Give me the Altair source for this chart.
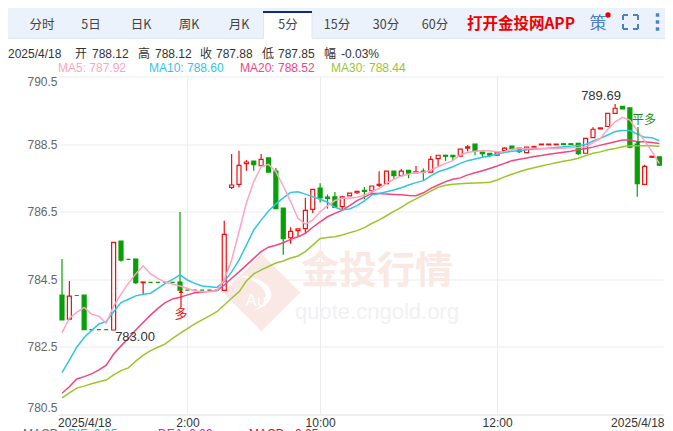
import altair as alt
import pandas as pd

opens = [784.03,783.32,784.02,784.03,783.01,783.01,783.01,783.00,785.63,785.09,785.10,784.40,784.41,784.41,784.41,784.41,784.42,784.18,784.18,784.18,784.18,784.18,784.17,787.22,787.31,787.92,788.00,787.86,788.09,787.70,786.61,785.73,785.94,786.00,786.57,787.20,786.93,786.94,786.65,786.97,787.06,787.13,787.12,787.28,787.33,787.70,787.57,787.72,787.65,787.70,787.67,788.07,788.17,788.17,788.14,788.38,788.50,788.26,788.23,788.17,788.31,788.44,788.38,788.25,788.41,788.48,788.48,788.48,788.51,788.51,788.52,788.23,788.69,788.95,789.02,789.41,789.62,789.57,788.50,787.31,788.11,788.12]
highs = [785.10,784.45,784.02,784.03,783.01,783.01,783.01,785.59,785.63,785.09,785.10,784.42,784.41,784.41,784.41,784.41,786.49,784.18,784.18,784.18,784.18,784.18,786.23,788.21,788.30,788.03,788.00,788.21,788.09,787.79,786.61,786.04,785.99,786.91,787.16,787.34,787.01,787.08,786.97,787.05,787.10,787.23,787.26,787.70,787.70,787.70,787.76,787.72,787.85,787.78,788.15,788.17,788.17,788.17,788.35,788.47,788.50,788.26,788.23,788.25,788.41,788.44,788.38,788.41,788.43,788.50,788.50,788.50,788.51,788.51,788.52,788.67,789.00,788.98,789.41,789.69,789.62,789.57,788.50,787.89,788.14,788.12]
lows = [783.30,783.32,784.02,783.01,783.01,783.01,783.00,783.00,785.02,785.09,784.36,784.06,784.41,784.41,784.41,784.41,784.18,784.18,784.18,784.18,784.18,784.18,784.17,787.17,787.22,787.71,787.71,787.86,787.67,786.59,785.23,785.55,785.76,785.85,786.46,786.77,786.59,786.63,786.55,786.97,787.02,786.87,787.00,787.23,787.33,787.47,787.57,787.49,787.65,787.44,787.67,787.85,788.00,788.00,788.14,788.28,788.17,788.12,788.11,788.17,788.31,788.36,788.24,788.25,788.41,788.48,788.48,788.48,788.49,788.49,788.18,788.23,788.69,788.95,789.02,789.41,789.54,788.38,786.94,787.31,788.11,787.85]
closes = [783.30,784.00,784.02,783.01,783.01,783.01,783.01,785.59,785.07,785.09,784.40,784.42,784.41,784.41,784.41,784.41,784.18,784.18,784.18,784.18,784.18,784.18,785.83,787.29,787.87,787.97,787.89,788.05,787.67,786.59,785.70,785.92,785.99,786.54,787.16,786.91,786.89,786.63,786.94,787.05,787.10,787.10,787.26,787.31,787.70,787.57,787.70,787.64,787.68,787.67,788.05,788.17,788.14,788.13,788.35,788.42,788.29,788.22,788.17,788.25,788.38,788.36,788.28,788.41,788.43,788.50,788.50,788.50,788.49,788.49,788.22,788.67,788.94,788.98,789.41,789.56,789.54,788.41,787.33,787.84,788.14,787.88]
ma5 = [782.92,783.35,783.52,783.67,783.47,783.41,783.20,783.71,784.06,784.38,784.66,784.90,784.66,784.53,784.41,784.36,784.30,784.23,784.16,784.13,784.13,784.16,784.48,785.07,785.90,786.76,787.39,787.83,787.90,787.68,787.26,786.80,786.30,786.13,786.25,786.50,786.67,786.83,786.90,786.90,786.93,786.99,787.09,787.19,787.34,787.46,787.56,787.61,787.66,787.66,787.73,787.83,787.93,788.01,788.18,788.25,788.29,788.31,788.30,788.27,788.28,788.35,788.36,788.37,788.37,788.37,788.37,788.37,788.38,788.39,788.40,788.42,788.54,788.67,788.94,789.16,789.29,789.21,788.90,788.59,788.28,787.92]
ma10 = [781.74,782.11,782.49,782.78,782.98,783.18,783.25,783.54,783.81,783.91,784.01,784.06,784.09,784.23,784.38,784.50,784.63,784.48,784.38,784.30,784.28,784.26,784.43,784.72,785.07,785.51,785.96,786.25,786.52,786.73,786.91,787.07,787.09,787.02,786.94,786.87,786.78,786.63,786.56,786.58,786.68,786.82,786.99,787.04,787.09,787.14,787.21,787.29,787.36,787.42,787.56,787.68,787.75,787.83,787.93,788.01,788.06,788.11,788.15,788.21,788.25,788.29,788.30,788.33,788.35,788.36,788.38,788.40,788.42,788.44,788.46,788.49,788.59,788.67,788.77,788.87,788.90,788.90,788.80,788.70,788.69,788.60]
ma20 = [781.13,781.32,781.55,781.62,781.70,781.82,781.96,782.29,782.53,782.75,783.00,783.22,783.44,783.64,783.81,783.92,783.97,784.04,784.10,784.12,784.15,784.16,784.33,784.53,784.72,784.92,785.12,785.32,785.45,785.51,785.58,785.68,785.76,785.86,786.04,786.20,786.35,786.45,786.54,786.68,786.83,786.93,787.04,787.04,787.02,787.01,787.00,786.98,786.97,787.06,787.19,787.29,787.39,787.46,787.50,787.59,787.65,787.71,787.78,787.85,787.93,788.01,788.05,788.09,788.13,788.16,788.20,788.23,788.26,788.29,788.33,788.37,788.41,788.47,788.52,788.57,788.62,788.62,788.57,788.57,788.55,788.52]
ma30 = [780.99,781.14,781.28,781.34,781.41,781.47,781.52,781.67,781.80,781.88,782.08,782.25,782.39,782.49,782.59,782.75,782.90,783.04,783.18,783.30,783.42,783.54,783.74,783.94,784.13,784.45,784.66,784.78,784.88,784.98,785.04,785.13,785.19,785.32,785.51,785.71,785.74,785.76,785.81,785.88,785.94,786.03,786.15,786.26,786.38,786.51,786.63,786.77,786.88,786.99,787.11,787.22,787.28,787.31,787.33,787.34,787.35,787.36,787.37,787.44,787.53,787.61,787.68,787.75,787.80,787.85,787.90,787.95,787.99,788.03,788.08,788.16,788.23,788.27,788.33,788.37,788.42,788.45,788.45,788.45,788.45,788.44]
y_ticks = [780.5, 782.5, 784.5, 786.5, 788.5, 790.5]
x_grid = {17: "2:00", 35: "10:00", 59: "12:00"}

UP, DOWN = "#f40d0d", "#06a006"
FONT = "Liberation Sans"
CJK = "Noto Sans CJK SC"
L, T = 58.0, 76.5

n = len(opens)
df = pd.DataFrame({"i": range(n), "o": opens, "h": highs, "l": lows, "c": closes})
df["dir"] = ["up" if c > o else "down" for o, c in zip(opens, closes)]
df["xa"] = df["i"] - 0.27
df["xb"] = df["i"] + 0.27
x_dom = [-4 / 7.375, (605 - 4) / 7.375]
xs = alt.Scale(domain=x_dom, nice=False, zero=False)
ys = alt.Scale(domain=[780.5, 790.5], nice=False, zero=False)
dir_scale = alt.Scale(domain=["up", "down"], range=[UP, DOWN])
fill_scale = alt.Scale(domain=["up", "down"], range=["#ffffff", DOWN])

one = pd.DataFrame({"a": [0]})

def txt(s, px, py, color="#333333", size=12, align="center", weight="normal", font=FONT, baseline="middle"):
    kw = dict(text=s, color=color, fontSize=size, align=align, fontWeight=weight, font=font, baseline=baseline)
    return alt.Chart(one).mark_text(**kw).encode(x=alt.value(px - L), y=alt.value(py - T))

def box(x0, y0, x1, y1, fill, stroke=None):
    kw = dict(color=fill)
    if stroke:
        kw["stroke"] = stroke
        kw["strokeWidth"] = 1
    return alt.Chart(one).mark_rect(**kw).encode(x=alt.value(x0 - L), x2=alt.value(x1 - L), y=alt.value(y0 - T), y2=alt.value(y1 - T))

def seg(x0, y0, x1, y1, color, w=1.0):
    return alt.Chart(one).mark_rule(color=color, strokeWidth=w).encode(x=alt.value(x0 - L), x2=alt.value(x1 - L), y=alt.value(y0 - T), y2=alt.value(y1 - T))

def dot(px, py, size, color, shape="circle"):
    return alt.Chart(one).mark_point(shape=shape, size=size, filled=True, color=color, opacity=1, strokeWidth=0).encode(x=alt.value(px - L), y=alt.value(py - T))

layers = []

# watermark
WM = "#f9e8e4"
layers += [
    dot(261.5, 292.5, 6000, WM, "diamond"),
    dot(259, 292, 6000, "#ffffff", "M -0.5,-0.42 C -0.1,-0.4 0.3,-0.25 0.32,0.05 C 0.33,0.3 0.05,0.42 -0.15,0.47 C 0.12,0.35 0.2,0.2 0.17,0.05 C 0.1,-0.2 -0.2,-0.33 -0.5,-0.42 Z"),
    txt("Au", 256, 301, "#ffffff", 17),
    txt("金投行情", 377, 272, WM, 38, weight="bold", font=CJK),
    txt("quote.cngold.org", 377, 312, "#f1f1f3", 22),
]

# candles
base = alt.Chart(df)
axis_x = alt.Axis(values=list(x_grid), labelExpr="datum.value==17?'2:00':datum.value==35?'10:00':'12:00'",
                  grid=True, gridColor="#ececec", domainColor="#e8e8e8", ticks=False, title=None,
                  labelColor="#333333", labelFontSize=12, labelFont=FONT, labelPadding=3, labelBaseline="top")
axis_y = alt.Axis(values=y_ticks, grid=True, gridColor="#ececec", domain=False, ticks=False, title=None,
                  labelColor="#666666", labelFontSize=12, labelFont=FONT, labelFlush=True, labelPadding=1, format=".1f")
layers.append(base.mark_rule(strokeWidth=1.2).encode(
    x=alt.X("i:Q", scale=xs, axis=axis_x), y=alt.Y("h:Q", scale=ys, axis=axis_y), y2="l:Q",
    color=alt.Color("dir:N", scale=dir_scale, legend=None)))
layers.append(base.mark_rect(strokeWidth=1.2).encode(
    x=alt.X("xa:Q", scale=xs), x2="xb:Q", y=alt.Y("o:Q", scale=ys), y2="c:Q",
    fill=alt.Fill("dir:N", scale=fill_scale, legend=None),
    stroke=alt.Stroke("dir:N", scale=dir_scale, legend=None)))

# moving averages
for vals, col in [(ma30, "#9dc52b"), (ma20, "#f2467f"), (ma10, "#2fc6e6"), (ma5, "#ffa3c2")]:
    d = pd.DataFrame({"i": range(n), "v": vals})
    layers.append(alt.Chart(d).mark_line(color=col, strokeWidth=1.5).encode(
        x=alt.X("i:Q", scale=xs), y=alt.Y("v:Q", scale=ys)))

# annotations
layers += [
    txt("783.00", 135, 337, "#333333", 13),
    txt("789.69", 601, 96, "#333333", 13),
    seg(181, 292, 181, 307, "#f40d0d", 1.2),
    dot(181, 291, 22, "#f40d0d", "triangle-up"),
    txt("多", 181, 314, "#f40d0d", 13, font=CJK),
    seg(638, 127, 638, 142, "#1c8c1c", 1.2),
    dot(638, 144, 22, "#1c8c1c", "triangle-down"),
    txt("平多", 644, 120, "#1c8c1c", 12, font=CJK),
]

# header band
layers += [
    box(3, 7.5, 670, 38.5, "#ebf2fb", "#dfe7f3"),
    box(263.5, 12, 312, 39, "#ffffff"),
    seg(263.5, 13, 263.5, 38, "#dfe7f3"),
    seg(312, 13, 312, 38, "#dfe7f3"),
    seg(263, 12, 312, 12, "#0e2a85", 2),
]
for s, cx in [("分时", 42), ("5日", 91), ("日K", 141), ("周K", 189), ("月K", 239), ("5分", 288), ("15分", 337), ("30分", 386), ("60分", 435)]:
    layers.append(txt(s, cx, 24.5, "#444444", 12.5, font=CJK))
layers.append(txt("打开金投网APP", 521, 23.5, "#f00000", 15.5, weight="bold", font=CJK))
layers.append(txt("策", 598, 24, "#4a80c8", 17, font=CJK))
layers.append(dot(608, 15, 28, "#f00000"))
ICON = "#4a80c8"
for a, b, c, d in [(623, 15, 623, 20), (623, 15, 628, 15), (638, 15, 638, 20), (633, 15, 638, 15),
                   (623, 24, 623, 29), (623, 29, 628, 29), (638, 24, 638, 29), (633, 29, 638, 29)]:
    layers.append(seg(a, b, c, d, ICON, 2))
for py in (15, 22, 29):
    layers.append(dot(657.5, py, 12, ICON, "square"))

# info rows
for s, px in [("2025/4/18", 8), ("开", 75), ("788.12", 92), ("高", 138), ("788.12", 155), ("收", 200), ("787.88", 216), ("低", 262), ("787.85", 278), ("幅", 324), ("-0.03%", 341)]:
    layers.append(txt(s, px, 53.5, "#333333", 12, align="left", font=CJK if s in "开高收低幅" else FONT))
for s, px, col in [("MA5: 787.92", 58, "#ffa3c2"), ("MA10: 788.60", 149, "#2fc6e6"), ("MA20: 788.52", 240, "#f2467f"), ("MA30: 788.44", 331, "#9dc52b")]:
    layers.append(txt(s, px, 68, col, 12, align="left"))

# outer date labels
layers += [
    txt("2025/4/18", 58, 422.5, "#333333", 12, align="left"),
    txt("2025/4/18", 664.5, 422.5, "#333333", 12, align="right"),
]
# cut-off MACD row
for s, px, col in [("MACD", 23, "#666666"), ("DIF: 0.05", 68, "#12c4f0"), ("DEA: 0.09", 158, "#e020c0"), ("MACD: -0.05", 249, "#e01010")]:
    layers.append(txt(s, px, 434, col, 12, align="left"))

chart = alt.layer(*layers).properties(
    width=605, height=338,
    padding={"left": 50, "top": 68.5, "right": 2, "bottom": 16.5},
    autosize=alt.AutoSizeParams(type="none"),
).configure_view(stroke=None)

chart.save("out.html", embed_options={"renderer": "svg", "actions": False})
